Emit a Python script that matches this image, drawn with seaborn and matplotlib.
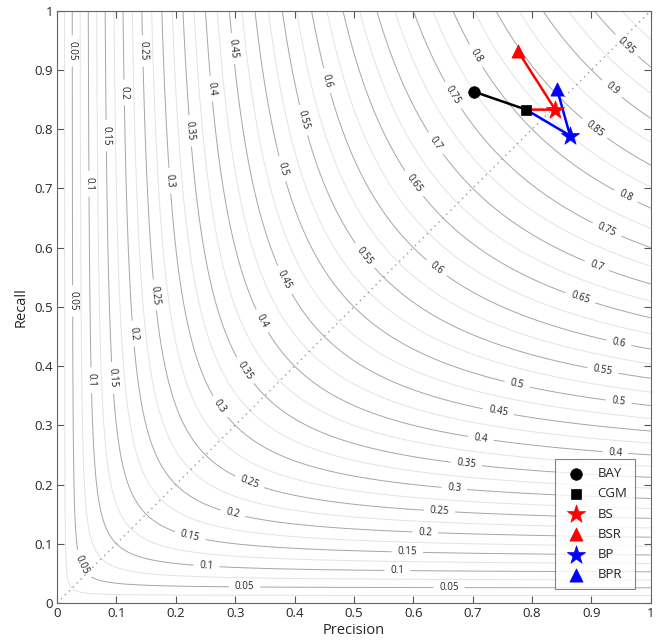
import numpy as np
import pandas as pd
import matplotlib
matplotlib.use("Agg")
import matplotlib.pyplot as plt
import seaborn as sns

# ---- data ----
methods = ["BAY", "CGM", "BS", "BSR", "BP", "BPR"]
precision = [0.703, 0.790, 0.839, 0.776, 0.864, 0.842]
recall = [0.863, 0.833, 0.833, 0.932, 0.789, 0.868]
colors = ["black", "black", "red", "red", "blue", "blue"]
markers = ["o", "s", "*", "^", "*", "^"]
# connecting paths (by method name)
paths = [["BAY", "CGM"], ["CGM", "BS", "BSR"], ["CGM", "BP", "BPR"]]
path_colors = ["black", "red", "blue"]

f_major = [round(0.05 * i, 2) for i in range(1, 20)]
f_minor = [round(0.025 + 0.05 * i, 3) for i in range(0, 20)]
tick_vals = [round(0.1 * i, 1) for i in range(11)]
tick_labels = ["0", "0.1", "0.2", "0.3", "0.4", "0.5", "0.6", "0.7", "0.8", "0.9", "1"]

# label placement: upper labels fixed by recall, lower labels fixed by precision
upper_recall = {0.05: 0.932, 0.1: 0.708, 0.15: 0.789, 0.2: 0.862, 0.25: 0.932,
                0.3: 0.713, 0.35: 0.797, 0.4: 0.868, 0.45: 0.936, 0.5: 0.733,
                0.55: 0.815, 0.6: 0.882, 0.65: 0.708, 0.7: 0.776, 0.75: 0.857,
                0.8: 0.924, 0.85: 0.801, 0.9: 0.868, 0.95: 0.941}
lower_prec = {0.05: [0.316, 0.66], 0.1: [0.252, 0.573], 0.15: [0.224, 0.59],
              0.2: [0.296, 0.62], 0.25: [0.324, 0.644], 0.3: [0.274, 0.669],
              0.35: [0.316, 0.689], 0.4: [0.345, 0.714, 0.94], 0.45: [0.383, 0.743],
              0.5: [0.775, 0.946], 0.55: [0.518, 0.919], 0.6: [0.639, 0.946],
              0.65: [0.881], 0.7: [0.909], 0.75: [0.926], 0.8: [0.958]}
left_recall = {0.05: [0.51, 0.064], 0.1: [0.376], 0.15: [0.38], 0.2: [0.455], 0.25: [0.52]}

sns.set_style("white")
plt.rcParams["font.family"] = ["Open Sans", "DejaVu Sans"]

fig = plt.figure(figsize=(6.6, 6.41), dpi=100)
ax = fig.add_axes([0.0864, 0.0593, 0.8997, 0.924])

g = np.linspace(0.0005, 1, 600)
P, R = np.meshgrid(g, g)
F = 2 * P * R / (P + R)

ax.contour(P, R, F, levels=f_minor, colors="#e3e3e3", linewidths=0.7)
cs = ax.contour(P, R, F, levels=f_major, colors="#a6a6a6", linewidths=0.7)

manual = []
for f in f_major:
    r = upper_recall[f]
    manual.append((f * r / (2 * r - f), r))
    for p in lower_prec.get(f, []):
        manual.append((p, f * p / (2 * p - f)))
    for r in left_recall.get(f, []):
        manual.append((f * r / (2 * r - f), r))
labels = ax.clabel(cs, inline=True, fontsize=7, manual=manual, inline_spacing=6,
                   fmt=lambda v: f"{v:g}")
for t in labels:
    t.set_color("#222222")

# diagonal
ax.plot([0, 1], [0, 1], linestyle=(0, (1, 3)), color="#999999", linewidth=1)

df = pd.DataFrame({"method": methods, "precision": precision, "recall": recall})
idx = {m: i for i, m in enumerate(methods)}
for path, c in zip(paths, path_colors):
    sub = df.iloc[[idx[m] for m in path]].reset_index(drop=True)
    sns.lineplot(data=sub, x="precision", y="recall", sort=False, color=c,
                 linewidth=1.8, ax=ax, estimator=None)

sizes = {"o": 70, "s": 50, "*": 190, "^": 90}
for m, p, r, c, mk in zip(methods, precision, recall, colors, markers):
    sns.scatterplot(x=[p], y=[r], color=c, marker=mk, s=sizes[mk],
                    edgecolor=c, linewidth=0.5, ax=ax, label=m, zorder=5)

leg = ax.legend(loc="lower right", frameon=True, fontsize=9.5, fancybox=False,
                borderpad=0.6, labelspacing=0.55, handletextpad=0.6,
                bbox_to_anchor=(0.985, 0.012))
leg.get_frame().set_edgecolor("#666666")
leg.get_frame().set_linewidth(0.8)

ax.set_xlim(0, 1)
ax.set_ylim(0, 1)
ax.set_xticks(tick_vals)
ax.set_xticklabels(tick_labels)
ax.set_yticks(tick_vals)
ax.set_yticklabels(tick_labels)
ax.tick_params(direction="in", length=5, width=0.8, color="#555555", labelsize=9.5,
               top=True, right=True, bottom=True, left=True, pad=3)
for s in ax.spines.values():
    s.set_color("#666666")
    s.set_linewidth(0.8)
ax.set_xlabel("Precision", fontsize=10.5, labelpad=2)
ax.set_ylabel("Recall", fontsize=10.5, labelpad=4)

fig.savefig("out.png", dpi=100)
